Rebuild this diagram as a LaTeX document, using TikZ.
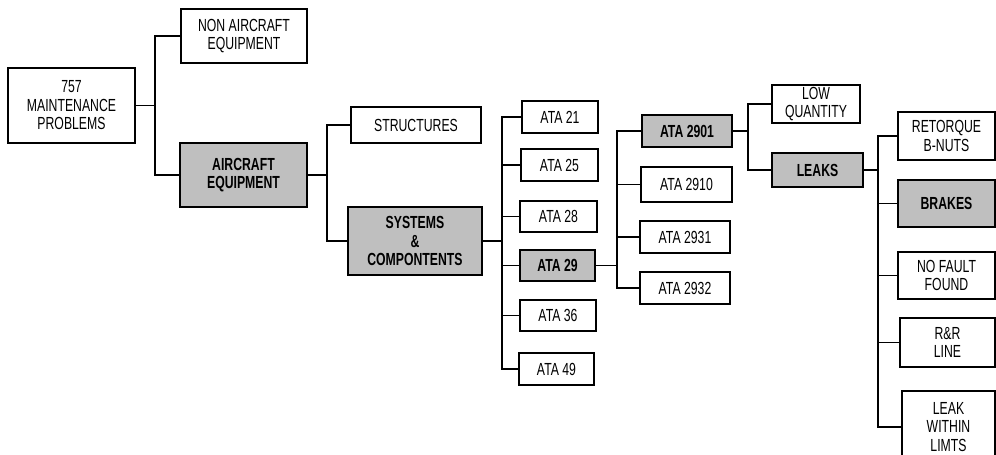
\documentclass[tikz,border=0pt]{standalone}
\usepackage{fontspec}
\setmainfont[FakeStretch=0.7]{Liberation Sans}
\begin{document}
\begin{tikzpicture}[x=1pt,y=-1pt,
  box/.style={draw=black, line width=1.6pt, fill=white, align=center, inner sep=0pt,
    font=\fontsize{17.5}{18.5}\selectfont},
  shbox/.style={box, fill=black!25, line width=2.4pt, font=\fontsize{17.5}{18.5}\selectfont\bfseries},
  conn/.style={draw=black, line width=1.5pt}]
\useasboundingbox (0,0) rectangle (996,455);
\clip (0,0) rectangle (996,455);
% level 0-1
\node[box, minimum width=127pt, minimum height=75pt] (p757) at (71.5,105.5) {757\\MAINTENANCE\\PROBLEMS};
\node[box, minimum width=126pt, minimum height=54pt] (nonac) at (244,36) {NON AIRCRAFT\\EQUIPMENT};
\node[shbox, minimum width=127pt, minimum height=64pt] (acq) at (243.5,175) {AIRCRAFT\\EQUIPMENT};
% level 2
\node[box, minimum width=130pt, minimum height=36pt] (struct) at (416,125) {STRUCTURES};
\node[shbox, minimum width=134pt, minimum height=68pt] (sys) at (415,241) {SYSTEMS\\\&\\COMPONTENTS};
% level 3
\node[box, minimum width=76pt, minimum height=32pt] (a21) at (560,117) {ATA 21};
\node[box, minimum width=77pt, minimum height=32pt] (a25) at (559.5,165) {ATA 25};
\node[box, minimum width=77pt, minimum height=31pt] (a28) at (558.5,216.5) {ATA 28};
\node[shbox, minimum width=75pt, minimum height=31pt] (a29) at (557.5,265.5) {ATA 29};
\node[box, minimum width=76pt, minimum height=31pt] (a36) at (558,315.5) {ATA 36};
\node[box, minimum width=75pt, minimum height=32pt] (a49) at (556.5,369) {ATA 49};
% level 4
\node[shbox, minimum width=90pt, minimum height=32pt] (a2901) at (687,131) {ATA 2901};
\node[box, minimum width=91pt, minimum height=35pt] (a2910) at (686.5,184.5) {ATA 2910};
\node[box, minimum width=90pt, minimum height=32pt] (a2931) at (685,237) {ATA 2931};
\node[box, minimum width=90pt, minimum height=32pt] (a2932) at (685,288) {ATA 2932};
% level 5
\node[box, minimum width=88pt, minimum height=38pt] (lowq) at (816,104) {LOW\\QUANTITY};
\node[shbox, minimum width=91pt, minimum height=34pt] (leaks) at (817.5,170) {LEAKS};
% level 6
\node[box, minimum width=97pt, minimum height=48pt] (retq) at (946.5,136) {RETORQUE\\B-NUTS};
\node[shbox, minimum width=97pt, minimum height=47pt] (brakes) at (946.5,203.5) {BRAKES};
\node[box, minimum width=97pt, minimum height=47pt] (nff) at (946.5,275.5) {NO FAULT\\FOUND};
\node[box, minimum width=95pt, minimum height=49pt] (rr) at (947.5,342.5) {R\&R\\LINE};
\node[box, minimum width=93pt, minimum height=72pt] (lwl) at (948.5,427) {LEAK\\WITHIN\\LIMTS};
% trunk points
\coordinate (t1) at (155,105.5);
\coordinate (t2) at (327,175);
\coordinate (t3) at (502,241);
\coordinate (t4) at (617,265.5);
\coordinate (t5) at (748,131);
\coordinate (t6) at (878,170);
% connectors
\draw[conn] (p757.east) -- (t1);
\draw[conn] (t1) |- (nonac.west);
\draw[conn] (t1) |- (acq.west);
\draw[conn] (acq.east) -- (t2);
\draw[conn] (t2) |- (struct.west);
\draw[conn] (t2) |- (sys.west);
\draw[conn] (sys.east) -- (t3);
\foreach \n in {a21,a25,a28,a29,a36,a49} \draw[conn] (t3) |- (\n.west);
\draw[conn] (a29.east) -- (t4);
\foreach \n in {a2901,a2910,a2931,a2932} \draw[conn] (t4) |- (\n.west);
\draw[conn] (a2901.east) -- (t5);
\foreach \n in {lowq,leaks} \draw[conn] (t5) |- (\n.west);
\draw[conn] (leaks.east) -- (t6);
\foreach \n in {retq,brakes,nff,rr,lwl} \draw[conn] (t6) |- (\n.west);
\end{tikzpicture}
\end{document}
